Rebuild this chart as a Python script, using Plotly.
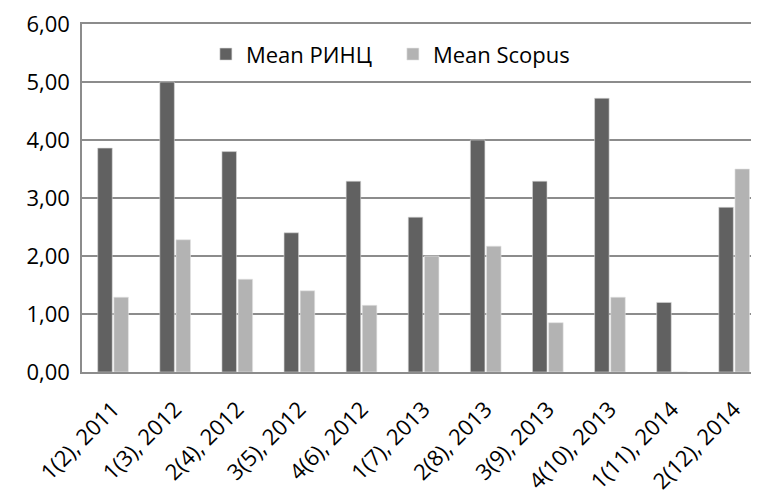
import plotly.graph_objects as go

categories = ["1(2), 2011", "1(3), 2012", "2(4), 2012", "3(5), 2012", "4(6), 2012",
              "1(7), 2013", "2(8), 2013", "3(9), 2013", "4(10), 2013", "1(11), 2014",
              "2(12), 2014"]
mean_rinc = [3.86, 5.00, 3.80, 2.40, 3.29, 2.67, 4.00, 3.29, 4.72, 1.20, 2.84]
mean_scopus = [1.29, 2.28, 1.60, 1.40, 1.15, 2.00, 2.17, 0.85, 1.29, 0.00, 3.50]
y_ticks = [0, 1, 2, 3, 4, 5, 6]

FONT = "Open Sans"

fig = go.Figure()
fig.add_trace(go.Bar(x=categories, y=mean_rinc, name="Mean РИНЦ",
                     marker=dict(color="#616161", line=dict(color="#d8d8d8", width=0.6))))
fig.add_trace(go.Bar(x=categories, y=mean_scopus, name="Mean Scopus",
                     marker=dict(color="#b3b3b3", line=dict(color="#e4e4e4", width=0.6))))

# page body has an 8px default margin, so the figure is sized to end at the window edge
fig.update_layout(
    width=751, height=492,
    margin=dict(l=74, r=0, t=16, b=128, autoexpand=False),
    paper_bgcolor="white", plot_bgcolor="white",
    barmode="group", bargap=0.48, bargroupgap=0.1,
    separators=", ",
    font=dict(family=FONT, size=21, color="#000000"),
    legend=dict(orientation="h", x=0.183, y=0.913, xanchor="left", yanchor="middle",
                font=dict(family=FONT, size=22, color="#000000"),
                bgcolor="rgba(0,0,0,0)", entrywidth=142, entrywidthmode="pixels"),
    showlegend=True,
)
fig.update_xaxes(type="category", range=[-0.5, 10.4], tickangle=-45, automargin=False,
                 showline=True, mirror=True, linecolor="#8c8c8c", linewidth=1.5,
                 showgrid=False, ticks="", ticklabelstandoff=14,
                 ticklabeloverflow="allow",
                 tickfont=dict(family=FONT, size=22))
fig.update_yaxes(range=[0, 6], tickvals=y_ticks, tickformat=".2f", automargin=False,
                 showgrid=True, gridcolor="#8c8c8c", gridwidth=1.5,
                 showline=True, linecolor="#8c8c8c", linewidth=1.5,
                 zeroline=False, ticks="", ticklabelstandoff=6,
                 ticklabeloverflow="allow",
                 tickfont=dict(family=FONT, size=22))

fig.write_html("out.html")
